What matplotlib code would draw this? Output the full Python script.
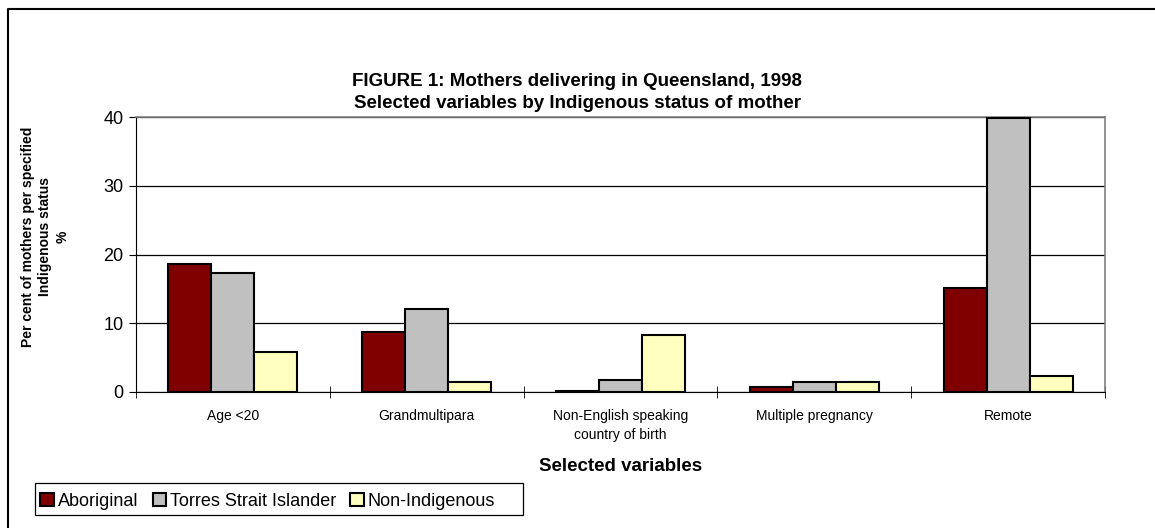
import numpy as np
import matplotlib.pyplot as plt
from matplotlib.lines import Line2D
from matplotlib.patches import Rectangle

plt.rcParams['font.family'] = ['Liberation Sans', 'DejaVu Sans']

categories = ['Age <20', 'Grandmultipara', 'Non-English speaking\ncountry of birth',
              'Multiple pregnancy', 'Remote']
aboriginal = [18.6, 8.7, 0.1, 0.7, 15.1]
torres = [17.3, 12.1, 1.7, 1.5, 39.9]
non_indigenous = [5.8, 1.5, 8.3, 1.5, 2.3]

series = [('Aboriginal', aboriginal, '#800000'),
          ('Torres Strait Islander', torres, '#c0c0c0'),
          ('Non-Indigenous', non_indigenous, '#ffffc0')]

W, H = 1155, 528
fig = plt.figure(figsize=(W / 100, H / 100), dpi=100)
ax = fig.add_axes([136 / W, 1 - 392 / H, 969 / W, 275 / H])

# chart frame (only top and left edges fall inside the image)
fig.add_artist(Line2D([7.5 / W, 7.5 / W, 1], [0, 1 - 8.5 / H, 1 - 8.5 / H],
                      transform=fig.transFigure, color='black', linewidth=1.5))

x = np.arange(len(categories))
w = 0.222
for i, (name, vals, col) in enumerate(series):
    ax.bar(x + (i - 1) * w, vals, width=w, color=col, edgecolor='black',
           linewidth=1.5, label=name, zorder=3)

ax.set_xlim(-0.5, len(categories) - 0.5)
ax.set_ylim(0, 40)
ax.set_yticks([0, 10, 20, 30, 40])
ax.yaxis.grid(True, color='black', linewidth=0.9, zorder=0)
ax.tick_params(axis='y', labelsize=13, direction='out', length=5, pad=4)

ax.set_xticks(x)
ax.set_xticklabels(categories, fontsize=10, linespacing=1.45)
ax.tick_params(axis='x', length=0, pad=12)
ax.set_xticks(np.arange(-0.5, len(categories)), minor=True)
ax.tick_params(axis='x', which='minor', direction='inout', length=8)

for s in ['top', 'right']:
    ax.spines[s].set_color('#808080')
    ax.spines[s].set_linewidth(1.2)
ax.spines['left'].set_color('black')
ax.spines['bottom'].set_color('black')

ax.set_xlabel('Selected variables', fontsize=13.5, fontweight='bold', labelpad=12)
ax.set_ylabel('Per cent of mothers per specified\nIndigenous status\n%',
              fontsize=10, fontweight='bold', linespacing=1.3,
              va='center', ha='center')
ax.yaxis.set_label_coords((45 - 136) / 969, (392 - 237) / 275)

fig.text(0.5, 1 - 82 / H, 'FIGURE 1: Mothers delivering in Queensland, 1998',
         ha='center', va='center', fontsize=13.5, fontweight='bold')
fig.text(0.5, 1 - 103 / H, 'Selected variables by Indigenous status of mother',
         ha='center', va='center', fontsize=13.5, fontweight='bold')

# legend box drawn separately (wider than its entries, as in the original)
fig.add_artist(Rectangle((34.5 / W, 1 - 515 / H), 488 / W, 32 / H,
                         transform=fig.transFigure, fill=False,
                         edgecolor='black', linewidth=0.9))
fig.legend(loc='center left', bbox_to_anchor=(35 / W, 1 - 501 / H), ncol=3,
           fontsize=13, frameon=False, handlelength=0.75,
           handleheight=0.75, handletextpad=0.2, columnspacing=0.8,
           borderpad=0.3, borderaxespad=0)

fig.savefig('out.png', dpi=100)
